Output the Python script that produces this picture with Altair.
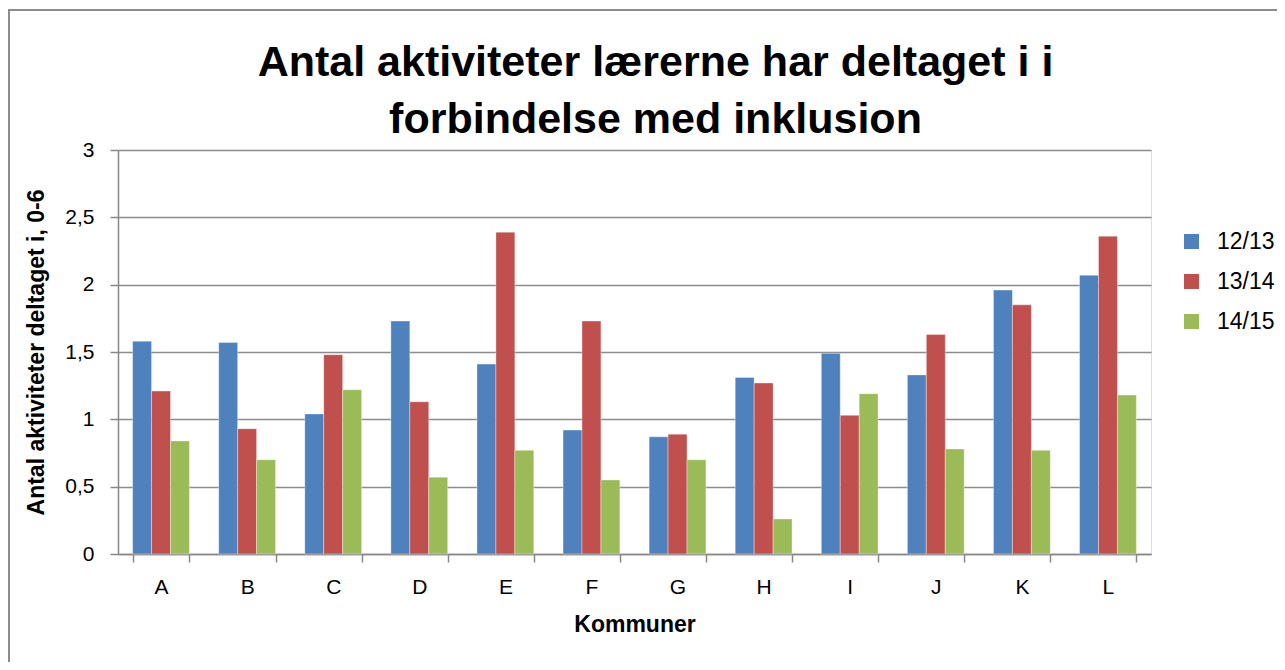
import altair as alt
import pandas as pd

kommuner = ["A", "B", "C", "D", "E", "F", "G", "H", "I", "J", "K", "L"]
series = ["12/13", "13/14", "14/15"]
v1213 = [1.58, 1.57, 1.04, 1.73, 1.41, 0.92, 0.87, 1.31, 1.49, 1.33, 1.96, 2.07]
v1314 = [1.21, 0.93, 1.48, 1.13, 2.39, 1.73, 0.89, 1.27, 1.03, 1.63, 1.85, 2.36]
v1415 = [0.84, 0.70, 1.22, 0.57, 0.77, 0.55, 0.70, 0.26, 1.19, 0.78, 0.77, 1.18]
colors = ["#4F81BD", "#C0504D", "#9BBB59"]

rows = []
for s, vals in zip(series, [v1213, v1314, v1415]):
    for k, v in zip(kommuner, vals):
        rows.append({"Kommune": k, "Periode": s, "Værdi": v})
df = pd.DataFrame(rows)

W, H = 1033, 404
FONT = "Liberation Sans"

bars = alt.Chart(df).mark_bar(stroke="white", strokeWidth=0.6, strokeOpacity=0.6).encode(
    x=alt.X("Kommune:N", sort=kommuner,
            scale=alt.Scale(paddingInner=0.34, paddingOuter=0.17),
            axis=alt.Axis(title="Kommuner", labelAngle=0, tickBand="extent",
                          tickSize=8, labelPadding=14, titlePadding=16,
                          labelFontSize=21, titleFontSize=23, titleFontWeight="bold",
                          labelColor="black", titleColor="black",
                          domainColor="#888888", tickColor="#888888",
                          domainWidth=1.5, tickWidth=1.5, labelFont=FONT, titleFont=FONT)),
    xOffset=alt.XOffset("Periode:N", sort=series),
    y=alt.Y("Værdi:Q", scale=alt.Scale(domain=[0, 3], nice=False),
            axis=alt.Axis(title="Antal aktiviteter deltaget i, 0-6", values=[0, 0.5, 1, 1.5, 2, 2.5, 3],
                          labelExpr="replace(toString(datum.value), '.', ',')",
                          tickSize=8, labelPadding=16, titlePadding=16,
                          labelFontSize=21, titleFontSize=23, titleFontWeight="bold",
                          labelColor="black", titleColor="black",
                          grid=True, gridColor="#8c8c8c", gridWidth=1.5,
                          domainColor="#888888", tickColor="#888888",
                          domainWidth=1.5, tickWidth=1.5, labelFont=FONT, titleFont=FONT)),
    color=alt.Color("Periode:N", sort=series,
                    scale=alt.Scale(domain=series, range=colors),
                    legend=alt.Legend(title=None, orient="none", legendX=1062, legendY=80,
                                      symbolType="square", symbolSize=225, symbolStrokeWidth=0,
                                      labelFontSize=23, labelFont=FONT, labelColor="black",
                                      rowPadding=16, labelOffset=14)),
)

frame = alt.Chart(pd.DataFrame({"d": [0]})).mark_rect(
    fill=None, stroke="#8c8c8c", strokeWidth=2, clip=False
).encode(x=alt.value(-109), x2=alt.value(1175), y=alt.value(-140), y2=alt.value(530))

chart = alt.layer(frame, bars).properties(
    width=W, height=H,
    title=alt.TitleParams(
        ["Antal aktiviteter lærerne har deltaget i i", "forbindelse med inklusion"],
        font=FONT, fontSize=43, fontWeight="bold", color="black", anchor="middle", frame="group",
        lineHeight=57, offset=12, dy=145, dx=21),
    autosize=alt.AutoSizeParams(type="none"),
    padding={"left": 110, "top": 142, "right": 126, "bottom": 108},
).configure_view(stroke=None).configure(background="white")

chart.save("out.html", embed_options={"renderer": "svg", "actions": False})
